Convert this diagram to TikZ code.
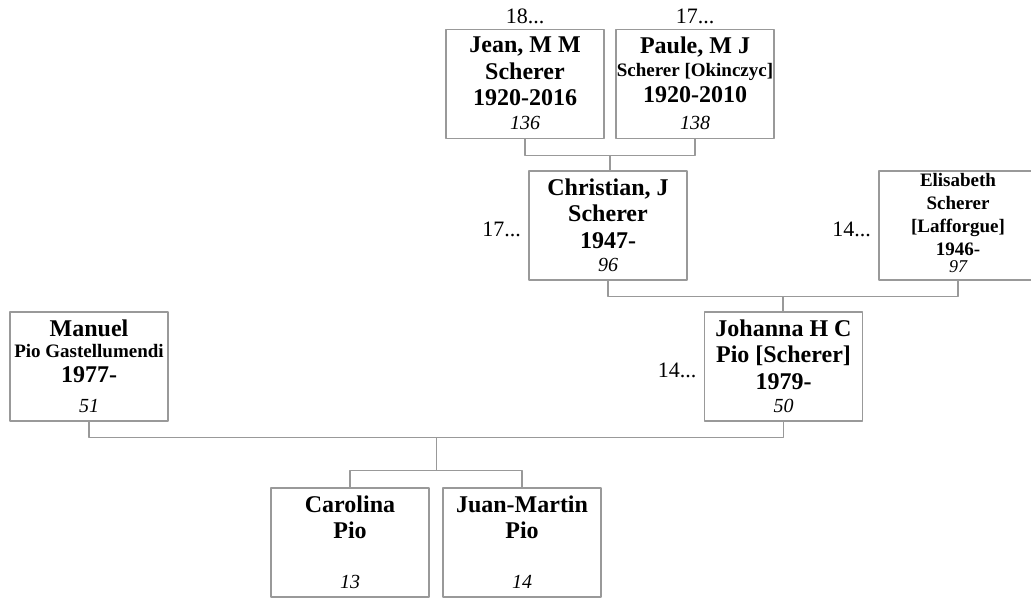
\documentclass[tikz,border=0pt]{standalone}
\usepackage{fontspec}
\setmainfont{Liberation Serif}
\usetikzlibrary{calc}
\definecolor{lineg}{gray}{0.6}
\newcommand{\sm}[1]{{\fontsize{9.5}{11}\selectfont #1}}
\begin{document}
\begin{tikzpicture}[x=0.5pt,y=-0.5pt,line join=round,
	box/.style={draw=lineg,line width=0.7pt,minimum width=79pt,minimum height=54.5pt,inner sep=0pt},
	nm/.style={anchor=north,align=center,inner xsep=0pt,inner ysep=3.9pt,font=\fontsize{12}{13.25}\selectfont\bfseries},
	no/.style={anchor=south,inner xsep=0pt,inner ysep=4.5pt,font=\fontsize{10}{12}\selectfont\itshape},
	gen/.style={inner sep=0pt,font=\fontsize{11}{13}\selectfont},
	link/.style={draw=lineg,line width=0.7pt}]
	\useasboundingbox (0,0) rectangle (1031,599);
	\clip (0,0) rectangle (1031,599);
	\path
	(525,84) coordinate (J)
	(695,84) coordinate (P)
	(608,225.5) coordinate (C)
	(958,225.5) coordinate (E)
	(783.5,366.5) coordinate (H)
	(89,366.5) coordinate (M)
	(350,542.5) coordinate (K)
	(522,542.5) coordinate (U)
	;
	\node[box] (jean) at (J) {};
	\node[nm] (jean-nm) at (jean.north) {Jean, M M\\Scherer\\1920-2016};
	\node[no] (jean-no) at (jean.south) {136};
	\node[gen,anchor=base] (jean-g) at ([yshift=2.5pt]jean.north) {18...};
	\node[box] (paule) at (P) {};
	\node[nm] (paule-nm) at (paule.north) {Paule, M J\\[-1.75pt]\sm{Scherer [Okinczyc]}\\[-0.25pt]1920-2010};
	\node[no] (paule-no) at (paule.south) {138};
	\node[gen,anchor=base] (paule-g) at ([yshift=2.5pt]paule.north) {17...};
	\node[box] (chris) at (C) {};
	\node[nm] (chris-nm) at (chris.north) {Christian, J\\Scherer\\1947-};
	\node[no] (chris-no) at (chris.south) {96};
	\node[gen,anchor=base east] (chris-g) at ([shift={(-3.5pt,-5.25pt)}]chris.west) {17...};
	\node[box] (elis) at (E) {};
	\node[nm,inner ysep=1.5pt,font=\fontsize{9.5}{11.5}\selectfont\bfseries] (elis-nm) at (elis.north) {Elisabeth\\Scherer\\{[Lafforgue]}\\1946-};
	\node[no,inner ysep=3.9pt,font=\fontsize{9}{11}\selectfont\itshape] (elis-no) at (elis.south) {97};
	\node[gen,anchor=base east] (elis-g) at ([shift={(-3.5pt,-5.25pt)}]elis.west) {14...};
	\node[box] (joh) at (H) {};
	\node[nm] (joh-nm) at (joh.north) {Johanna H C\\Pio [Scherer]\\1979-};
	\node[no] (joh-no) at (joh.south) {50};
	\node[gen,anchor=base east] (joh-g) at ([shift={(-3.5pt,-5.25pt)}]joh.west) {14...};
	\node[box] (man) at (M) {};
	\node[nm] (man-nm) at (man.north) {Manuel\\[-2.6pt]\sm{Pio Gastellumendi}\\[-0.75pt]1977-};
	\node[no] (man-no) at (man.south) {51};
	\node[box] (caro) at (K) {};
	\node[nm] (caro-nm) at (caro.north) {Carolina\\Pio};
	\node[no] (caro-no) at (caro.south) {13};
	\node[box] (juan) at (U) {};
	\node[nm] (juan-nm) at (juan.north) {Juan-Martin\\Pio};
	\node[no] (juan-no) at (juan.south) {14};
	\draw[link] (jean.south) -- ++(0,16) coordinate (jb) -| (paule.south);
	\coordinate (jm) at ($(jb)!0.5!(jb-|paule.south)$);
	\draw[link] (jm) -- (jm|-chris.north);
	\draw[link] (chris.south) -- ++(0,16) coordinate (cb) -| (elis.south);
	\coordinate (cm) at ($(cb)!0.5!(cb-|elis.south)$);
	\draw[link] (cm) -- (cm|-joh.north);
	\draw[link] (man.south) -- ++(0,16) coordinate (mb) -| (joh.south);
	\coordinate (mm) at ($(mb)!0.5!(mb-|joh.south)$);
	\draw[link] (caro.north) -- ++(0,-17) coordinate (kb) -| (juan.north);
	\draw[link] (mm) -- (mm|-kb);
\end{tikzpicture}
\end{document}
